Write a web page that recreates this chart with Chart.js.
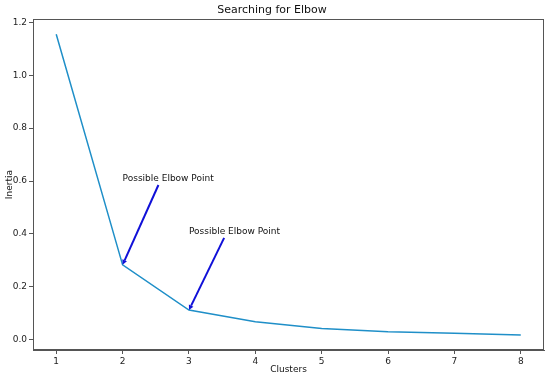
<!DOCTYPE html>
<html>
<head>
<meta charset="utf-8">
<script src="https://cdn.jsdelivr.net/npm/chart.js@4.4.1/dist/chart.umd.min.js"></script>
<style>
html,body{margin:0;padding:0;background:#fff;}
#wrap{width:550px;height:378px;}
</style>
</head>
<body>
<div id="wrap"><canvas id="c" width="550" height="378"></canvas></div>
<script>
const clusters = [1, 2, 3, 4, 5, 6, 7, 8];
const inertia = [1.155, 0.283, 0.112, 0.068, 0.042, 0.030, 0.024, 0.018];
const xTicks = [1, 2, 3, 4, 5, 6, 7, 8];
const yTicks = [0.0, 0.2, 0.4, 0.6, 0.8, 1.0, 1.2];
const noteLabels = ['Possible Elbow Point', 'Possible Elbow Point'];
const noteTextX = [2, 3];
const noteTextY = [0.6, 0.4];
const noteTailX = [2.54, 3.53];
const noteTailY = [0.585, 0.385];
const noteHeadX = [2, 3];
const noteHeadY = [0.283, 0.112];

const FONT = 'DejaVu Sans';

const notesPlugin = {
  id: 'notes',
  afterDatasetsDraw(chart) {
    const ctx = chart.ctx, xs = chart.scales.x, ys = chart.scales.y, a = chart.chartArea;
    ctx.save();
    ctx.strokeStyle = '#555';
    ctx.lineWidth = 1;
    ctx.strokeRect(Math.round(a.left) + 0.5, Math.round(a.top) + 0.5, Math.round(a.right - a.left) - 1, Math.round(a.bottom - a.top) - 1);
    for (let i = 0; i < noteLabels.length; i++) {
      const tx = xs.getPixelForValue(noteTextX[i]), ty = ys.getPixelForValue(noteTextY[i]);
      ctx.fillStyle = '#111';
      ctx.font = '9px "' + FONT + '"';
      ctx.textAlign = 'left';
      ctx.textBaseline = 'alphabetic';
      ctx.fillText(noteLabels[i], tx, ty);
      const x0 = xs.getPixelForValue(noteTailX[i]), y0 = ys.getPixelForValue(noteTailY[i]);
      const x1 = xs.getPixelForValue(noteHeadX[i]), y1 = ys.getPixelForValue(noteHeadY[i]);
      const ang = Math.atan2(y1 - y0, x1 - x0);
      const hl = 5, hw = 2.5;
      const bx = x1 - hl * Math.cos(ang), by = y1 - hl * Math.sin(ang);
      ctx.strokeStyle = '#1010d8';
      ctx.fillStyle = '#1010d8';
      ctx.lineWidth = 2;
      ctx.beginPath();
      ctx.moveTo(x0, y0);
      ctx.lineTo(bx, by);
      ctx.stroke();
      ctx.beginPath();
      ctx.moveTo(x1, y1);
      ctx.lineTo(bx + hw * Math.sin(ang), by - hw * Math.cos(ang));
      ctx.lineTo(bx - hw * Math.sin(ang), by + hw * Math.cos(ang));
      ctx.closePath();
      ctx.fill();
    }
    ctx.restore();
  }
};

new Chart(document.getElementById('c'), {
  type: 'line',
  data: {
    datasets: [{
      data: clusters.map((c, i) => ({x: c, y: inertia[i]})),
      borderColor: '#1f8fc8',
      borderWidth: 1.5,
      pointRadius: 0,
      tension: 0,
      fill: false
    }]
  },
  options: {
    responsive: false,
    animation: false,
    layout: {padding: {left: 0, right: 6, top: 0, bottom: 0}},
    plugins: {
      legend: {display: false},
      tooltip: {enabled: false},
      title: {
        display: true,
        text: 'Searching for Elbow',
        color: '#111',
        font: {family: FONT, size: 11, weight: 'normal'},
        padding: {top: 4, bottom: 2}
      }
    },
    scales: {
      x: {
        type: 'linear',
        min: 0.65,
        max: 8.35,
        afterBuildTicks: (ax) => { ax.ticks = xTicks.map(v => ({value: v})); },
        afterFit: (ax) => { ax.height = 28; },
        grid: {drawOnChartArea: false, drawTicks: true, tickLength: 4, color: '#555'},
        border: {display: true, color: '#555'},
        ticks: {color: '#222', font: {family: FONT, size: 9}, padding: 2, maxRotation: 0, callback: v => String(v)},
        title: {display: true, text: 'Clusters', color: '#111', font: {family: FONT, size: 9}, padding: {top: 1, bottom: 3}}
      },
      y: {
        type: 'linear',
        min: -0.039,
        max: 1.212,
        afterBuildTicks: (ax) => { ax.ticks = yTicks.map(v => ({value: v})); },
        afterFit: (ax) => { ax.width = 33; },
        grid: {drawOnChartArea: false, drawTicks: true, tickLength: 4, color: '#555'},
        border: {display: true, color: '#555'},
        ticks: {color: '#222', font: {family: FONT, size: 9}, padding: 2, callback: v => Number(v).toFixed(1)},
        title: {display: true, text: 'Inertia', color: '#111', font: {family: FONT, size: 9}, padding: {top: 4, bottom: 0}}
      }
    }
  },
  plugins: [notesPlugin]
});
</script>
</body>
</html>
